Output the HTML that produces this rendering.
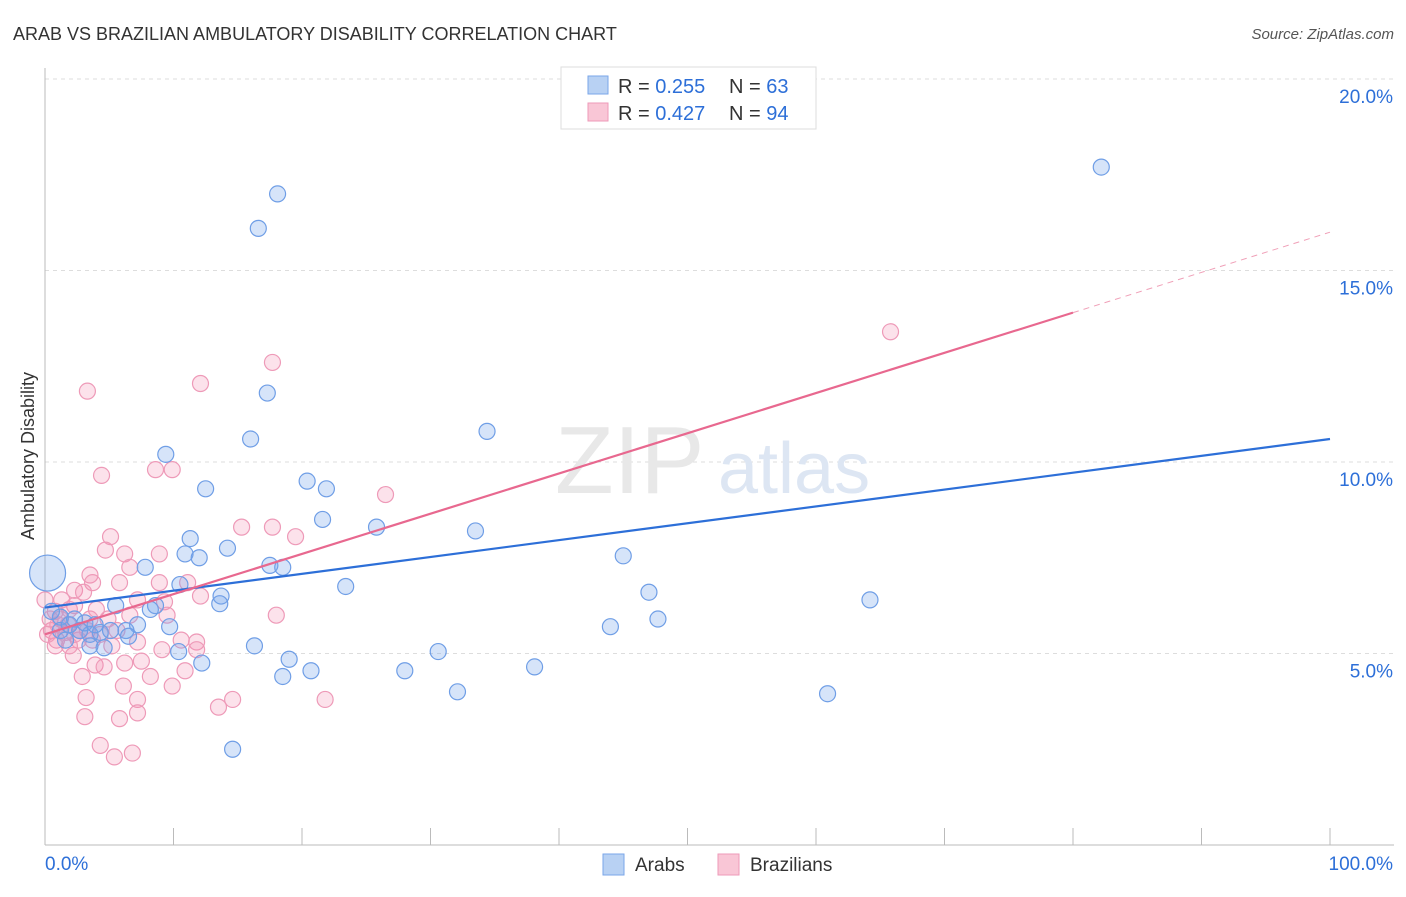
<!DOCTYPE html>
<html><head><meta charset="utf-8"><style>
body{margin:0;background:#fff;font-family:"Liberation Sans",sans-serif}
svg text{font-family:"Liberation Sans",sans-serif}
</style></head><body>
<svg id="chart" width="1406" height="892" xmlns="http://www.w3.org/2000/svg">
<text x="13" y="40" font-size="18" fill="#333">ARAB VS BRAZILIAN AMBULATORY DISABILITY CORRELATION CHART</text>
<text x="1394" y="39" font-size="15" fill="#555" font-style="italic" text-anchor="end">Source: ZipAtlas.com</text>
<text x="34" y="456" font-size="18" fill="#333" text-anchor="middle" transform="rotate(-90 34 456)">Ambulatory Disability</text>
<g id="grid"></g>
<g id="axes"></g>
<text x="555" y="493" font-size="96" fill="#e8e8e8" font-family="Liberation Serif">ZIP</text>
<text x="718" y="493" font-size="72" fill="#dde6f3">atlas</text>
<g id="pinkpts"></g>
<g id="bluepts"></g>
<g id="lines"></g>
<g>
<rect x="561" y="67" width="255" height="62" fill="#fff" stroke="#ddd"/>
<rect x="588" y="76" width="20" height="18" fill="#b8d1f3" stroke="#7aa6e8"/>
<text x="618" y="93" font-size="20" fill="#333">R = <tspan fill="#2d6fd8">0.255</tspan></text>
<text x="729" y="93" font-size="20" fill="#333">N = <tspan fill="#2d6fd8">63</tspan></text>
<rect x="588" y="103" width="20" height="18" fill="#f9c6d6" stroke="#ee9ab8"/>
<text x="618" y="120" font-size="20" fill="#333">R = <tspan fill="#2d6fd8">0.427</tspan></text>
<text x="729" y="120" font-size="20" fill="#333">N = <tspan fill="#2d6fd8">94</tspan></text>
</g>
<g>
<rect x="603" y="854" width="21" height="21" fill="#b8d1f3" stroke="#7aa6e8"/>
<text x="635" y="871" font-size="19" fill="#333">Arabs</text>
<rect x="718" y="854" width="21" height="21" fill="#f9c6d6" stroke="#ee9ab8"/>
<text x="750" y="871" font-size="19" fill="#333">Brazilians</text>
</g>
</svg>
<script>
const blueX=[18.1,16.6,82.2,17.3,16.0,34.4,9.4,12.5,20.4,21.9,21.6,25.8,33.5,11.3,14.2,10.9,12.0,45.0,7.8,17.5,18.5,10.5,23.4,47.0,64.2,13.7,13.6,8.6,8.2,5.5,47.7,9.7,44.0,7.2,6.3,4.3,3.5,2.7,1.2,0.5,4.6,3.5,16.3,10.4,30.6,19.0,12.2,20.7,38.1,28.0,18.5,32.1,60.9,14.6,1.2,1.9,2.3,1.6,3.1,5.1,6.5,3.9,0.2];
const blueY=[17.0,16.1,17.7,11.8,10.6,10.8,10.2,9.3,9.5,9.3,8.5,8.3,8.2,8.0,7.75,7.6,7.5,7.55,7.25,7.3,7.25,6.8,6.75,6.6,6.4,6.5,6.3,6.25,6.15,6.25,5.9,5.7,5.7,5.75,5.6,5.55,5.5,5.6,5.95,6.1,5.15,5.2,5.2,5.05,5.05,4.85,4.75,4.55,4.65,4.55,4.4,4.0,3.95,2.5,5.6,5.75,5.9,5.35,5.8,5.6,5.45,5.75,7.1];
const blueR=blueX.map((v,i)=>i===blueX.length-1?18:8);
const pinkX=[65.8,17.7,12.1,3.3,4.4,8.6,9.9,26.5,15.3,17.7,19.5,5.1,4.7,6.2,8.9,6.6,3.5,3.7,5.8,8.9,11.1,2.3,3.0,12.1,7.2,9.3,18.0,9.5,4.0,6.6,2.3,0.8,1.2,1.8,2.7,3.5,0.5,0.9,2.6,4.3,5.6,7.2,9.1,10.6,11.8,11.8,2.2,3.9,6.2,7.5,4.6,8.2,2.9,10.9,6.1,9.9,3.2,7.2,13.5,14.6,21.8,3.1,7.2,5.8,4.3,5.4,6.8,0.4,0,1.3,1.9,3.3,4.9,0.8,1.6,2.3,0.2,1.0,3.7,5.2,1.9];
const pinkY=[13.4,12.6,12.05,11.85,9.65,9.8,9.8,9.15,8.3,8.3,8.05,8.05,7.7,7.6,7.6,7.25,7.05,6.85,6.85,6.85,6.85,6.65,6.6,6.5,6.4,6.35,6.0,6.0,6.15,6.0,6.25,6.1,5.9,5.75,5.6,5.9,5.6,5.35,5.35,5.5,5.6,5.3,5.1,5.35,5.3,5.1,4.95,4.7,4.75,4.8,4.65,4.4,4.4,4.55,4.15,4.15,3.85,3.8,3.6,3.8,3.8,3.35,3.45,3.3,2.6,2.3,2.4,5.9,6.4,6.4,6.15,5.6,5.9,5.2,5.55,5.5,5.5,5.75,5.35,5.2,5.2];
const yTicks=[5,10,15,20];
const xTickLabels=["0.0%","100.0%"];
const blueLine=[6.2,10.6];
const pinkLine=[5.5,16.0];
const pinkSolidEnd=80;

const NS="http://www.w3.org/2000/svg";
const X=v=>45+v*12.85, Y=v=>845-v*38.3;
function mk(tag,attrs,parent){const e=document.createElementNS(NS,tag);for(const k in attrs)e.setAttribute(k,attrs[k]);parent.appendChild(e);return e;}
const grid=document.getElementById('grid'), axes=document.getElementById('axes');
yTicks.forEach(t=>{
  const l=mk('line',{x1:45,x2:1394,y1:Y(t),y2:Y(t),stroke:'#ddd','stroke-dasharray':'4,4'},grid);
  
  
  const tx=mk('text',{x:1393,y:Y(t)+24,'font-size':19,fill:'#2d6fd8','text-anchor':'end'},axes);
  tx.textContent=t.toFixed(1)+'%';
  
  
});
const l0=mk('line',{x1:45,x2:1394,y1:845,y2:845,stroke:'#bbb'},axes);


const l1=mk('line',{x1:45,x2:45,y1:68,y2:845,stroke:'#bbb'},axes);


for(let i=0;i<=10;i++){
  const t=mk('line',{x1:X(i*10),x2:X(i*10),y1:828,y2:845,stroke:'#bbb'},axes);
  
  
}
const xl0=mk('text',{x:45,y:870,'font-size':19,fill:'#2d6fd8'},axes);
xl0.textContent=xTickLabels[0];


const xl1=mk('text',{x:1393,y:870,'font-size':19,fill:'#2d6fd8','text-anchor':'end'},axes);
xl1.textContent=xTickLabels[1];



const pg=document.getElementById('pinkpts');
pinkX.forEach((v,i)=>{
  const c=mk('circle',{cx:X(v),cy:Y(pinkY[i]),r:8,fill:'rgba(244,140,175,0.25)',stroke:'#ee9ab8','stroke-width':1.2},pg);
  
  
});
const bg=document.getElementById('bluepts');
blueX.forEach((v,i)=>{
  const c=mk('circle',{cx:X(v),cy:Y(blueY[i]),r:blueR[i],fill:'rgba(120,165,235,0.3)',stroke:'#6f9ee6','stroke-width':1.2},bg);
  
  
});
const lg=document.getElementById('lines');
const bl=mk('line',{x1:X(0),y1:Y(blueLine[0]),x2:X(100),y2:Y(blueLine[1]),stroke:'#2d6fd8','stroke-width':2.2},lg);


const py=x=>pinkLine[0]+(pinkLine[1]-pinkLine[0])*x/100;
const pl=mk('line',{x1:X(0),y1:Y(py(0)),x2:X(pinkSolidEnd),y2:Y(py(pinkSolidEnd)),stroke:'#e8688f','stroke-width':2.2},lg);


const pd=mk('line',{x1:X(pinkSolidEnd),y1:Y(py(pinkSolidEnd)),x2:X(100),y2:Y(py(100)),stroke:'#f0a0b8','stroke-width':1,'stroke-dasharray':'6,5'},lg);


</script>
</body></html>
